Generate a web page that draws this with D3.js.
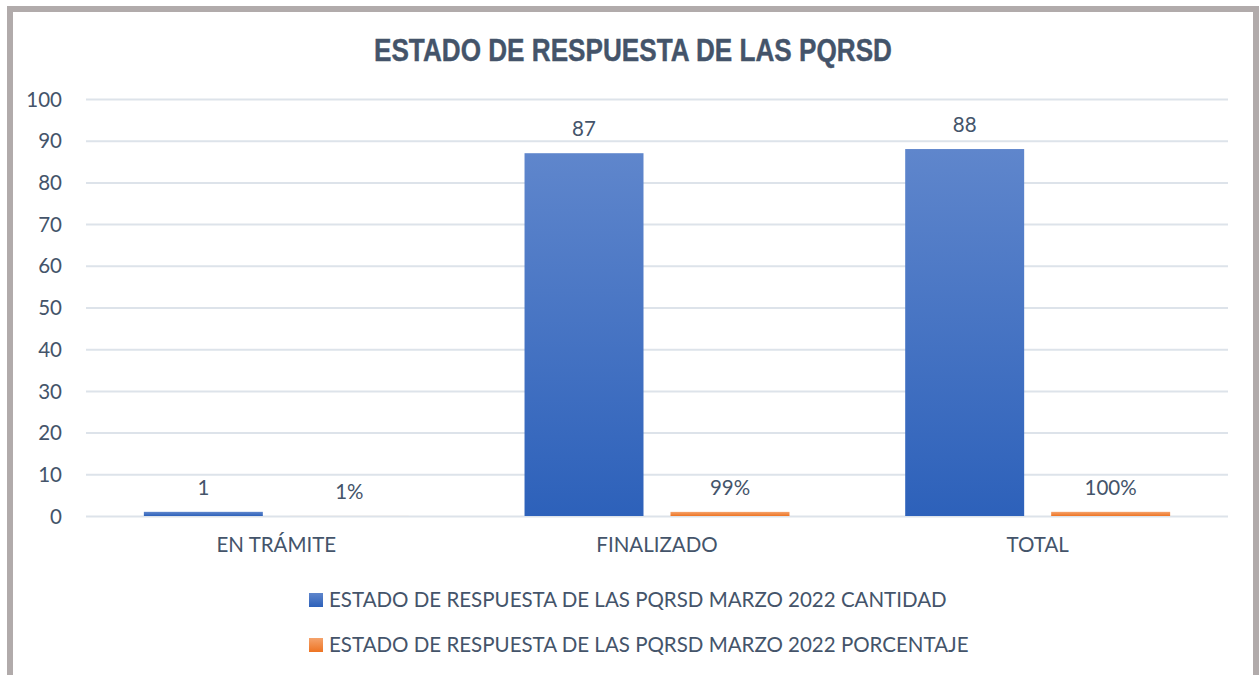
<!DOCTYPE html>
<html><head><meta charset="utf-8">
<script src="https://cdn.jsdelivr.net/npm/d3@7"></script>
<style>
html,body{margin:0;padding:0;background:#fff;}
svg{display:block;}
</style></head>
<body>
<svg id="c" width="1259" height="675"></svg>
<script>
const categories = ["EN TRÁMITE", "FINALIZADO", "TOTAL"];
const seriesNames = [
  "ESTADO DE RESPUESTA DE LAS PQRSD MARZO 2022 CANTIDAD",
  "ESTADO DE RESPUESTA DE LAS PQRSD MARZO 2022 PORCENTAJE"
];
const cantidad = [1, 87, 88];
const porcentaje = [0.01, 0.99, 1.0];
const porcentajeLabels = ["1%", "99%", "100%"];
const yTicks = [0, 10, 20, 30, 40, 50, 60, 70, 80, 90, 100];
const title = "ESTADO DE RESPUESTA DE LAS PQRSD";

const svg = d3.select("#c");
const textColor = "#44546a";
const bodyFont = "Lato, 'Open Sans', sans-serif";
const fs = 20.5;

const defs = svg.append("defs");
function grad(id, top, bottom){
  const g = defs.append("linearGradient").attr("id", id).attr("x1",0).attr("y1",0).attr("x2",0).attr("y2",1);
  g.append("stop").attr("offset","0%").attr("stop-color",top);
  g.append("stop").attr("offset","100%").attr("stop-color",bottom);
}
grad("gBlue", "#5f86cc", "#2d61ba");
grad("gOrange", "#f5a36c", "#ee7423");

// frame
svg.append("rect").attr("x",10).attr("y",9).attr("width",1246).attr("height",700)
  .attr("fill","#fff").attr("stroke","#b1abab").attr("stroke-width",6);

// title
const t = svg.append("text").attr("x",633).attr("y",61).attr("text-anchor","middle")
  .attr("font-family","'Liberation Sans Narrow','Liberation Sans',Arial,sans-serif")
  .attr("font-weight","bold").attr("font-size",31).attr("fill",textColor)
  .attr("stroke",textColor).attr("stroke-width",0.4).text(title);
t.attr("textLength",518).attr("lengthAdjust","spacingAndGlyphs");

const y = d3.scaleLinear().domain([0,100]).range([516,99]);
const x0 = d3.scaleBand().domain(categories).range([86,1228]).paddingInner(0.304).paddingOuter(0.152);
const x1 = d3.scaleBand().domain(seriesNames).range([0,x0.bandwidth()]).paddingInner(0.185);

// grid
const yAxis = d3.axisLeft(y).tickValues(yTicks).tickSize(-(1228-86)).tickPadding(24);
const ga = svg.append("g").attr("transform","translate(86,0)").call(yAxis);
ga.select(".domain").remove();
ga.selectAll(".tick line").attr("stroke","#dde3ea").attr("stroke-width",2);
ga.selectAll(".tick text").attr("fill",textColor).attr("font-family",bodyFont).attr("font-size",fs).attr("dy","0.35em");

// x axis labels
const xAxis = d3.axisBottom(x0).tickSize(0).tickPadding(21);
const gx = svg.append("g").attr("transform","translate(0,516)").call(xAxis);
gx.select(".domain").remove();
gx.selectAll(".tick text").attr("fill",textColor).attr("font-family",bodyFont).attr("font-size",fs);

const seriesData = [
  {name: seriesNames[0], values: cantidad, labels: cantidad.map(String), fill: "url(#gBlue)"},
  {name: seriesNames[1], values: porcentaje, labels: porcentajeLabels, fill: "url(#gOrange)"}
];

seriesData.forEach(s => {
  const g = svg.append("g");
  g.selectAll("rect").data(categories).join("rect")
    .attr("x", (c) => x0(c) + x1(s.name))
    .attr("y", (c,i) => y(s.values[i]))
    .attr("width", x1.bandwidth())
    .attr("height", (c,i) => y(0) - y(s.values[i]))
    .attr("fill", s.fill);
  g.selectAll("text").data(categories).join("text")
    .attr("x", (c) => x0(c) + x1(s.name) + x1.bandwidth()/2)
    .attr("y", (c,i) => y(s.values[i]) - 24)
    .attr("dy","0.35em")
    .attr("text-anchor","middle")
    .attr("font-family",bodyFont).attr("font-size",fs).attr("fill",textColor)
    .text((c,i) => s.labels[i]);
});

// legend
const lg = svg.append("g");
const legY = [600, 645];
seriesData.forEach((s,i) => {
  lg.append("rect").attr("x",309).attr("y",legY[i]-7).attr("width",14).attr("height",14).attr("fill",s.fill);
  lg.append("text").attr("x",329).attr("y",legY[i]).attr("dy","0.35em")
    .attr("font-family",bodyFont).attr("font-size",fs).attr("fill",textColor).text(s.name);
});
</script>
</body></html>
